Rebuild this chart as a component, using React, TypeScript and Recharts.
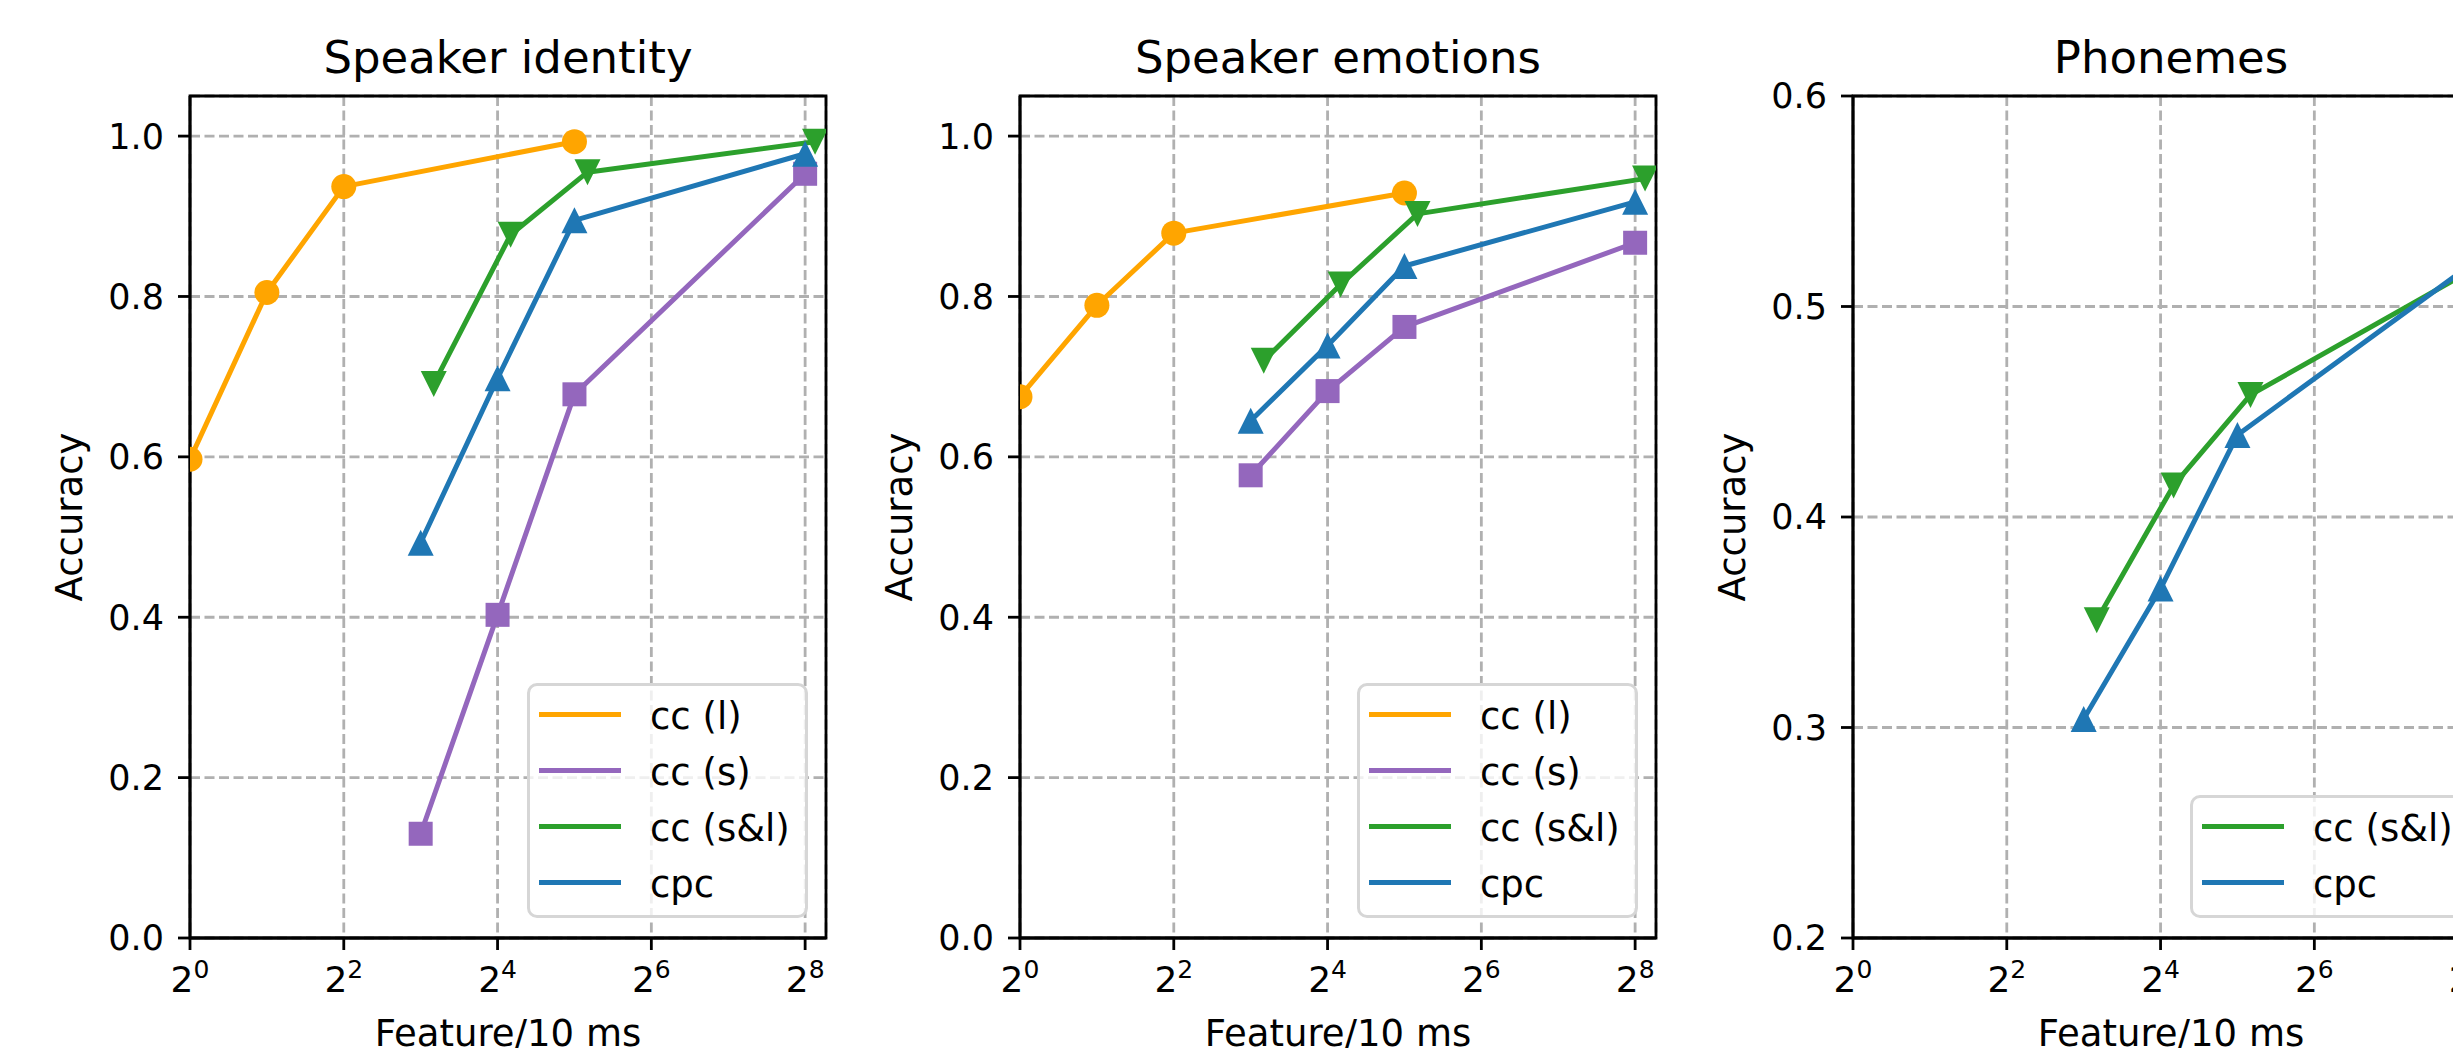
import { CartesianGrid, Legend, Line, LineChart, ReferenceArea, XAxis, YAxis } from "recharts";

// x positions (feature dims per 10 ms), log2 axis
const xTicks = [1, 4, 16, 64, 256];
const X_MAX = 309;

const xLong = [1, 2, 4, 32];
const xShort = [8, 16, 32, 256];
const xBoth = [9, 18, 36, 280];
const xCpc = [8, 16, 32, 256];

const identityLong = [0.597, 0.805, 0.937, 0.993];
const identityShort = [0.13, 0.403, 0.678, 0.953];
const identityBoth = [0.691, 0.877, 0.955, 0.993];
const identityCpc = [0.493, 0.698, 0.895, 0.978];

const emotionLong = [0.675, 0.789, 0.879, 0.929];
const emotionShort = [0.577, 0.682, 0.762, 0.867];
const emotionBoth = [0.72, 0.815, 0.903, 0.947];
const emotionCpc = [0.645, 0.739, 0.838, 0.918];

const phonemeBoth = [0.351, 0.415, 0.458, 0.519];
const phonemeCpc = [0.304, 0.366, 0.439, 0.519];

const accTicks = [0, 0.2, 0.4, 0.6, 0.8, 1.0];
const phonemeTicks = [0.2, 0.3, 0.4, 0.5, 0.6];

const FONT = "DejaVu Sans";
const PLOT_W = 636;
const PLOT_H = 842;
const PLOT_TOP = 96;
const YW = 170;
const MT = 40;
const MR = 30;
const XH = 120;

type Kind = "circle" | "square" | "down" | "up";
type Series = { name: string; color: string; kind: Kind; xs: number[]; ys: number[] };

const pts = (xs: number[], ys: number[]) => xs.map((x, i) => ({ x, y: ys[i] }));

const ccL = (ys: number[]): Series => ({ name: "cc (l)", color: "#ffa500", kind: "circle", xs: xLong, ys });
const ccS = (ys: number[]): Series => ({ name: "cc (s)", color: "#9467bd", kind: "square", xs: xShort, ys });
const ccSL = (ys: number[]): Series => ({ name: "cc (s&l)", color: "#2ca02c", kind: "down", xs: xBoth, ys });
const cpc = (ys: number[]): Series => ({ name: "cpc", color: "#1f77b4", kind: "up", xs: xCpc, ys });

function Marker({ kind, cx, cy, color }: { kind: Kind; cx: number; cy: number; color: string }) {
  if (cx == null || cy == null) return null;
  if (kind === "circle") return <circle cx={cx} cy={cy} r={12.5} fill={color} />;
  if (kind === "square") return <rect x={cx - 12} y={cy - 12} width={24} height={24} fill={color} />;
  const h = 13;
  const p =
    kind === "up"
      ? `${cx},${cy - h} ${cx - h},${cy + h} ${cx + h},${cy + h}`
      : `${cx},${cy + h} ${cx - h},${cy - h} ${cx + h},${cy - h}`;
  return <polygon points={p} fill={color} strokeLinejoin="round" />;
}

function PowTick(props: any) {
  const { x, y, payload } = props;
  const e = Math.round(Math.log2(payload.value));
  return (
    <text x={x} y={y + 38} textAnchor="middle" fontFamily={FONT} fill="#000">
      <tspan fontSize={36}>2</tspan>
      <tspan fontSize={25} dy={-14}>
        {e}
      </tspan>
    </text>
  );
}

function LegendBox({ items }: { items: Series[] }) {
  const h = 67 + 56 * (items.length - 1);
  return (
    <div
      style={{
        position: "relative",
        width: 281,
        height: h,
        boxSizing: "border-box",
        border: "3px solid #d6d6d6",
        borderRadius: 10,
        background: "rgba(255,255,255,0.8)",
        fontFamily: FONT,
      }}
    >
      {items.map((s, i) => {
        const c = 31 + 56 * i - 3;
        return (
          <div key={s.name}>
            <div style={{ position: "absolute", left: 9, top: c - 2.5, width: 82, height: 5, background: s.color }} />
            <div
              style={{
                position: "absolute",
                left: 120,
                top: c + 2,
                transform: "translateY(-50%)",
                fontSize: 37,
                lineHeight: 1,
                whiteSpace: "nowrap",
                color: "#000",
              }}
            >
              {s.name}
            </div>
          </div>
        );
      })}
    </div>
  );
}

function Panel({
  title,
  plotLeft,
  yDomain,
  yTicks,
  series,
}: {
  title: string;
  plotLeft: number;
  yDomain: [number, number];
  yTicks: number[];
  series: Series[];
}) {
  const legendH = 67 + 56 * (series.length - 1);
  return (
    <>
      <div
        style={{
          position: "absolute",
          left: plotLeft + PLOT_W / 2,
          top: 35,
          transform: "translateX(-50%)",
          fontSize: 45,
          lineHeight: 1,
          whiteSpace: "nowrap",
          color: "#000",
          fontFamily: FONT,
        }}
      >
        {title}
      </div>
      <div style={{ position: "absolute", left: plotLeft - YW, top: PLOT_TOP - MT }}>
        <LineChart width={YW + PLOT_W + MR} height={MT + PLOT_H + XH} margin={{ top: MT, right: MR, left: 0, bottom: 0 }}>
          <CartesianGrid stroke="#b0b0b0" strokeWidth={2.8} strokeDasharray="10 4.5" />
          <XAxis
            type="number"
            dataKey="x"
            scale="log"
            domain={[1, X_MAX]}
            ticks={xTicks}
            allowDataOverflow
            interval={0}
            height={XH}
            tickSize={12}
            tickMargin={4}
            tick={(p: any) => <PowTick {...p} />}
            axisLine={{ stroke: "#000", strokeWidth: 2.8 }}
            tickLine={{ stroke: "#000", strokeWidth: 2.8 }}
            label={{
              content: () => (
                <text x={YW + PLOT_W / 2} y={MT + PLOT_H + 108} textAnchor="middle" fontSize={37} fontFamily={FONT} fill="#000">
                  Feature/10 ms
                </text>
              ),
            }}
          />
          <YAxis
            type="number"
            domain={yDomain}
            ticks={yTicks}
            allowDataOverflow
            interval={0}
            width={YW}
            tickSize={12}
            tickMargin={14}
            tickFormatter={(v) => Number(v).toFixed(1)}
            tick={{ fontSize: 35, fill: "#000", fontFamily: FONT }}
            axisLine={{ stroke: "#000", strokeWidth: 2.8 }}
            tickLine={{ stroke: "#000", strokeWidth: 2.8 }}
            label={{
              content: () => {
                const lx = YW - 108;
                const ly = MT + PLOT_H / 2;
                return (
                  <text x={lx} y={ly} transform={`rotate(-90, ${lx}, ${ly})`} textAnchor="middle" fontSize={37} fontFamily={FONT} fill="#000">
                    Accuracy
                  </text>
                );
              },
            }}
          />
          <ReferenceArea x1={1} x2={X_MAX} y1={yDomain[0]} y2={yDomain[1]} fill="none" fillOpacity={0} stroke="#000" strokeWidth={2.8} ifOverflow="visible" />
          {series.map((s) => (
            <Line
              key={s.name}
              data={pts(s.xs, s.ys)}
              dataKey="y"
              name={s.name}
              stroke={s.color}
              strokeWidth={5}
              strokeLinejoin="round"
              isAnimationActive={false}
              activeDot={false}
              dot={(p: any) => <Marker key={`${s.name}-${p.index}`} kind={s.kind} cx={p.cx} cy={p.cy} color={s.color} />}
            />
          ))}
          <Legend
            layout="vertical"
            align="center"
            verticalAlign="middle"
            wrapperStyle={{ left: YW + 337, top: MT + PLOT_H - 20 - legendH, width: 281 }}
            content={() => <LegendBox items={series} />}
          />
        </LineChart>
      </div>
    </>
  );
}

export default function App() {
  return (
    <div
      style={{
        position: "fixed",
        left: 0,
        top: 0,
        width: 2453,
        height: 1048,
        overflow: "hidden",
        background: "#fff",
        fontFamily: FONT,
      }}
    >
      <Panel
        title="Speaker identity"
        plotLeft={190}
        yDomain={[0, 1.05]}
        yTicks={accTicks}
        series={[ccL(identityLong), ccS(identityShort), ccSL(identityBoth), cpc(identityCpc)]}
      />
      <Panel
        title="Speaker emotions"
        plotLeft={1020}
        yDomain={[0, 1.05]}
        yTicks={accTicks}
        series={[ccL(emotionLong), ccS(emotionShort), ccSL(emotionBoth), cpc(emotionCpc)]}
      />
      <Panel
        title="Phonemes"
        plotLeft={1853}
        yDomain={[0.2, 0.6]}
        yTicks={phonemeTicks}
        series={[ccSL(phonemeBoth), cpc(phonemeCpc)]}
      />
    </div>
  );
}
